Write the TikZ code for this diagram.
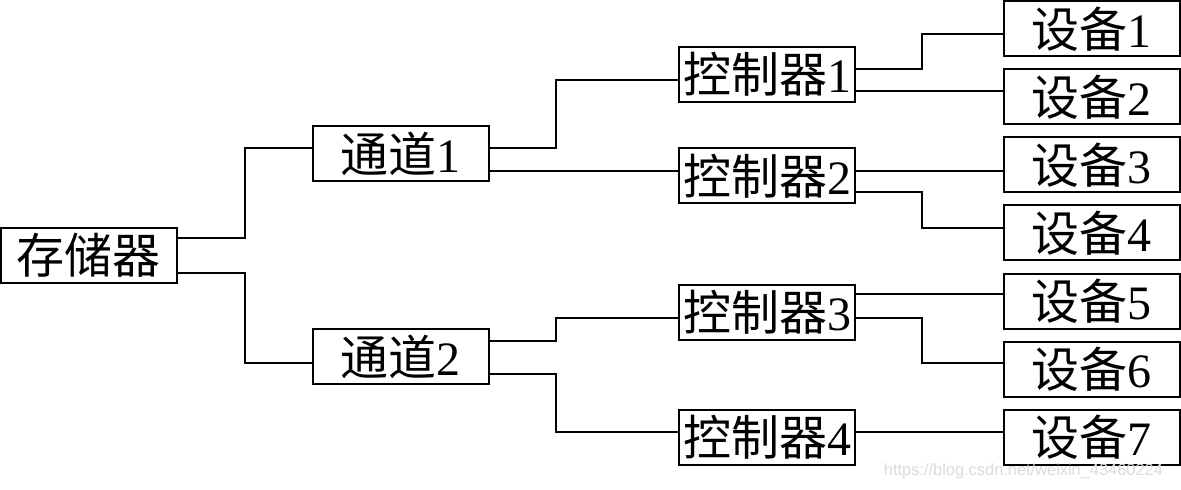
\documentclass[tikz,border=0pt]{standalone}
\usepackage{fontspec}
\setmainfont{Liberation Serif}
\newfontfamily\cjk{Noto Sans CJK SC}
\newfontfamily\wmfont{Liberation Sans}
\begin{document}
\begin{tikzpicture}[x=0.5pt,y=-0.5pt,
  box/.style={draw,line width=1pt,minimum width=88pt,minimum height=27.5pt,inner sep=0pt,
    font=\fontsize{24}{27}\selectfont},
  wire/.style={line width=1pt}]
\useasboundingbox (0,0) rectangle (1181,490);
\node[box] (m)  at (88.5,255.5) {\cjk 存储器};
\node[box] (c1) at (400.5,153.5) {{\cjk 通道}1};
\node[box] (c2) at (400.5,357) {{\cjk 通道}2};
\node[box] (k1) at (767,74.5) {{\cjk 控制器}1};
\node[box] (k2) at (767,176) {{\cjk 控制器}2};
\node[box] (k3) at (767,312.5) {{\cjk 控制器}3};
\node[box] (k4) at (767,437.5) {{\cjk 控制器}4};
\node[box] (d1) at (1091.5,29) {{\cjk 设备}1};
\node[box] (d2) at (1091.5,97) {{\cjk 设备}2};
\node[box] (d3) at (1091.5,165) {{\cjk 设备}3};
\node[box] (d4) at (1091.5,233) {{\cjk 设备}4};
\node[box] (d5) at (1091.5,301.5) {{\cjk 设备}5};
\node[box] (d6) at (1091.5,369.5) {{\cjk 设备}6};
\node[box] (d7) at (1091.5,437.5) {{\cjk 设备}7};
\foreach \a/\b/\ya/\xb/\yb in {m/c1/238/245/148, m/c2/273/245/363,
    c1/k1/148/556/80, c1/k2/171/556/171, c2/k3/341/556/318, c2/k4/374/556/432,
    k1/d1/69/922/34, k1/d2/91/922/91, k2/d3/171/922/171, k2/d4/192/922/228,
    k3/d5/294/922/294, k3/d6/318/922/363, k4/d7/432/922/432} {
  \coordinate (p) at (\xb,\ya);
  \coordinate (q) at (\xb,\yb);
  \draw[wire] (\a.east |- p) -- (p) -- (q) -- (\b.west |- q);
}
\node[text=black!14,font=\wmfont\fontsize{8.2}{10}\selectfont,anchor=east] (wm) at (1170,471) {https://blog.csdn.net/weixin\_43460224};
\end{tikzpicture}
\end{document}
